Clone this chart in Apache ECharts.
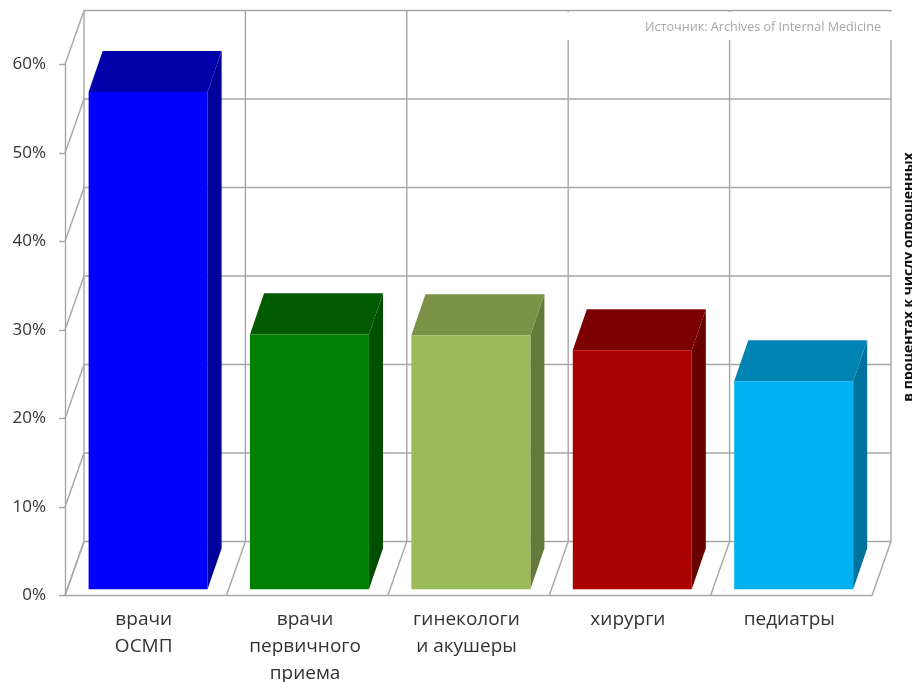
<!DOCTYPE html>
<html><head><meta charset="utf-8">
<script src="https://cdn.jsdelivr.net/npm/echarts@6/dist/echarts.min.js"></script>
<style>html,body{margin:0;padding:0;background:#fff;overflow:hidden}#c{width:912px;height:682px}</style>
</head><body><div id="c"></div>
<script>
const categories = ['врачи\nОСМП','врачи\nпервичного\nприема','гинекологи\nи акушеры','хирурги','педиатры'];
const values = [56.2, 28.8, 28.7, 27.0, 23.5];
const frontColors = ['#0000FF','#008000','#9BBB59','#AA0000','#00B0F0'];
const topColors = ['#0000AA','#005A00','#7A9146','#7C0000','#0084B4'];
const sideColors = ['#00009A','#004E00','#657A3A','#680000','#00739D'];
const yTicks = [0,10,20,30,40,50,60];
const source = 'Источник: Archives of Internal Medicine';
const sideNote = 'в процентах к числу опрошенных';

const DX = 19, DY = -54, GRID = '#A6A6A6';
const chart = echarts.init(document.getElementById('c'), null, {renderer:'canvas'});
const seg = (a,b)=>({type:'line',shape:{x1:a[0],y1:a[1],x2:b[0],y2:b[1]},style:{stroke:GRID,lineWidth:1.4}});
const poly = (pts,fill)=>({type:'polygon',shape:{points:pts},style:{fill:fill,stroke:null}});

function frameLevels(params, api){
  const v = api.value(0);
  const a = api.coord([0,v]), b = api.coord([categories.length-1,v]);
  const bw = api.size([1,0])[0];
  const l = a[0]-bw/2, r = b[0]+bw/2, y = a[1];
  return {type:'group',children:[
    seg([l,y],[l+DX,y+DY]),
    seg([l+DX,y+DY],[r+DX,y+DY])
  ]};
}
function frameCols(params, api){
  const i = api.value(0);
  const bw = api.size([1,0])[0];
  const x = api.coord([0,0])[0]-bw/2+i*bw;
  const y0 = api.coord([0,0])[1], y1 = api.coord([0,60])[1];
  return {type:'group',children:[
    seg([x,y0],[x+DX,y0+DY]),
    seg([x+DX,y0+DY],[x+DX,y1+DY])
  ]};
}
function bar3d(params, api){
  const i = api.value(0), v = api.value(1);
  const bw = api.size([1,0])[0], w = bw*0.737;
  const c0 = api.coord([i,0]), c1 = api.coord([i,v]);
  const ox = DX*0.125, oy = DY*0.115, dx = DX*0.74, dy = DY*0.76;
  const l = c0[0]-w/2+ox, r = l+w, b = c0[1]+oy, t = c1[1]+oy;
  return {type:'group',children:[
    poly([[r,t],[r+dx,t+dy],[r+dx,b+dy],[r,b]], sideColors[i]),
    poly([[l,t],[l+dx,t+dy],[r+dx,t+dy],[r,t]], topColors[i]),
    poly([[l,t],[r,t],[r,b],[l,b]], frontColors[i])
  ]};
}
chart.setOption({
  animation:false,
  backgroundColor:'#fff',
  grid:{left:65,top:64.5,width:807,height:531,containLabel:false,outerBoundsMode:'none'},
  xAxis:{type:'category',data:categories,
    axisLine:{show:true,lineStyle:{color:GRID,width:1.4}},axisTick:{show:false},
    axisLabel:{interval:0,color:'#333',fontFamily:'Open Sans',fontSize:19,lineHeight:27,margin:11,
      hideOverlap:false,verticalAlign:'top',padding:[0,4,0,0]}},
  yAxis:{type:'value',min:0,max:60,interval:10,
    axisLine:{show:true,lineStyle:{color:GRID,width:1.4}},
    axisTick:{show:true,length:6,lineStyle:{color:GRID,width:1.4}},
    splitLine:{show:false},
    axisLabel:{formatter:'{value}%',color:'#333',fontFamily:'Open Sans',fontSize:17,margin:19,padding:[7,0,0,0]}},
  series:[
    {type:'custom',name:'levels',renderItem:frameLevels,clip:false,silent:true,z:1,
      data:yTicks.map(v=>[v]),encode:{x:-1,y:0}},
    {type:'custom',name:'cols',renderItem:frameCols,clip:false,silent:true,z:1,
      data:categories.map((c,i)=>[i]).concat([[categories.length]]),encode:{x:0,y:-1}},
    {type:'custom',name:'bars',renderItem:bar3d,clip:false,z:3,
      data:values.map((v,i)=>[i,v]),encode:{x:0,y:1}}
  ],
  graphic:[
    {type:'rect',left:541,top:12,shape:{width:352,height:28},style:{fill:'#fff'},z:90},
    {type:'text',z:91,style:{text:source,x:881,y:27,align:'right',verticalAlign:'middle',
      fill:'#A6A6A6',font:'12.6px "Open Sans"'}},
    {type:'text',z:91,rotation:Math.PI/2,x:909,y:277,style:{text:sideNote,x:0,y:0,
      align:'center',verticalAlign:'middle',fill:'#111',font:'bold 14px "Open Sans"'}}
  ]
});
</script></body></html>
